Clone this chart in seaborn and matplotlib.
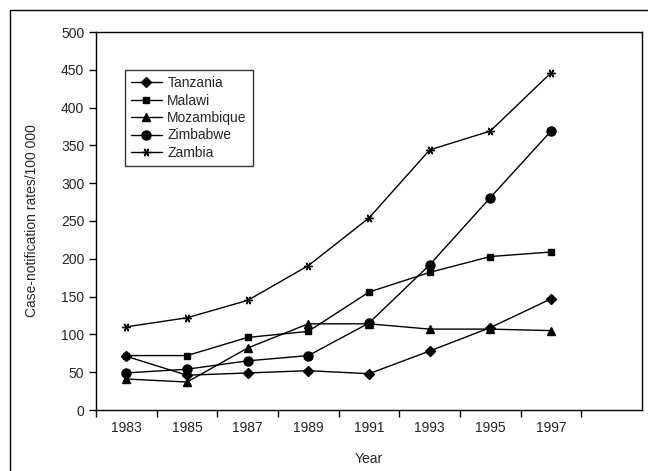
import numpy as np
import pandas as pd
import seaborn as sns
import matplotlib.pyplot as plt
from matplotlib.lines import Line2D

years = [1983, 1985, 1987, 1989, 1991, 1993, 1995, 1997]
tanzania = [71, 46, 49, 52, 48, 78, 109, 147]
malawi = [72, 72, 96, 104, 156, 182, 203, 209]
mozambique = [41, 37, 82, 114, 114, 107, 107, 105]
zimbabwe = [49, 54, 65, 72, 115, 192, 281, 369]
zambia = [110, 122, 145, 191, 254, 344, 369, 446]

countries = ["Tanzania", "Malawi", "Mozambique", "Zimbabwe", "Zambia"]
series = [tanzania, malawi, mozambique, zimbabwe, zambia]
markers = {"Tanzania": "D", "Malawi": "s", "Mozambique": "^", "Zimbabwe": "o", "Zambia": (6, 2, 90)}
msizes = {"Tanzania": 4.8, "Malawi": 4.8, "Mozambique": 5.5, "Zimbabwe": 6.5, "Zambia": 6}

df = pd.DataFrame({"Year": years * len(countries),
                   "Rate": sum(series, []),
                   "Country": np.repeat(countries, len(years))})

sns.set_style("white")
plt.rcParams["font.family"] = ["Liberation Sans", "DejaVu Sans"]

fig = plt.figure(figsize=(6.48, 4.71), dpi=100)
ax = fig.add_axes([96 / 648, 1 - 410 / 471, (642 - 96) / 648, (410 - 32) / 471])

for c in countries:
    sns.lineplot(data=df[df.Country == c], x="Year", y="Rate", ax=ax, color="black",
                 linewidth=1, marker=markers[c], markersize=msizes[c],
                 markeredgecolor="black", markerfacecolor="black",
                 markeredgewidth=1, label=c)

ax.set_xlim(1982, 2000)
ax.set_ylim(0, 500)
ax.set_xticks(range(1982, 2000, 2))
ax.set_xticklabels([])
ax.set_xticks(years, minor=True)
ax.set_xticklabels([str(y) for y in years], minor=True)
ax.set_yticks(range(0, 501, 50))
ax.tick_params(axis="x", which="major", direction="out", length=5, width=1, color="black", bottom=True)
ax.tick_params(axis="x", which="minor", length=0, labelsize=10, pad=8, bottom=True)
ax.tick_params(axis="y", direction="out", length=5, width=1, color="black", labelsize=10, left=True)

for s in ax.spines.values():
    s.set_color("black")
    s.set_linewidth(1)

ax.set_xlabel("Year", fontsize=10)
ax.set_ylabel("Case-notification rates/100 000", fontsize=10)
ax.xaxis.set_label_coords(0.5, -0.112)
ax.yaxis.set_label_coords(-0.105, 0.5)

leg = ax.legend(loc="upper left", bbox_to_anchor=(0.053, 0.9), borderaxespad=0, frameon=True,
                fancybox=False, edgecolor="black", fontsize=10, handlelength=2.2, borderpad=0.45,
                labelspacing=0.25, handletextpad=0.4)
leg.get_frame().set_linewidth(1)

# outer figure border (top and left)
fig.add_artist(Line2D([10 / 648, 10 / 648], [0, 1 - 10 / 471], transform=fig.transFigure, color="black", lw=1))
fig.add_artist(Line2D([10 / 648, 1], [1 - 10 / 471, 1 - 10 / 471], transform=fig.transFigure, color="black", lw=1))

fig.savefig("out.png", dpi=100)
